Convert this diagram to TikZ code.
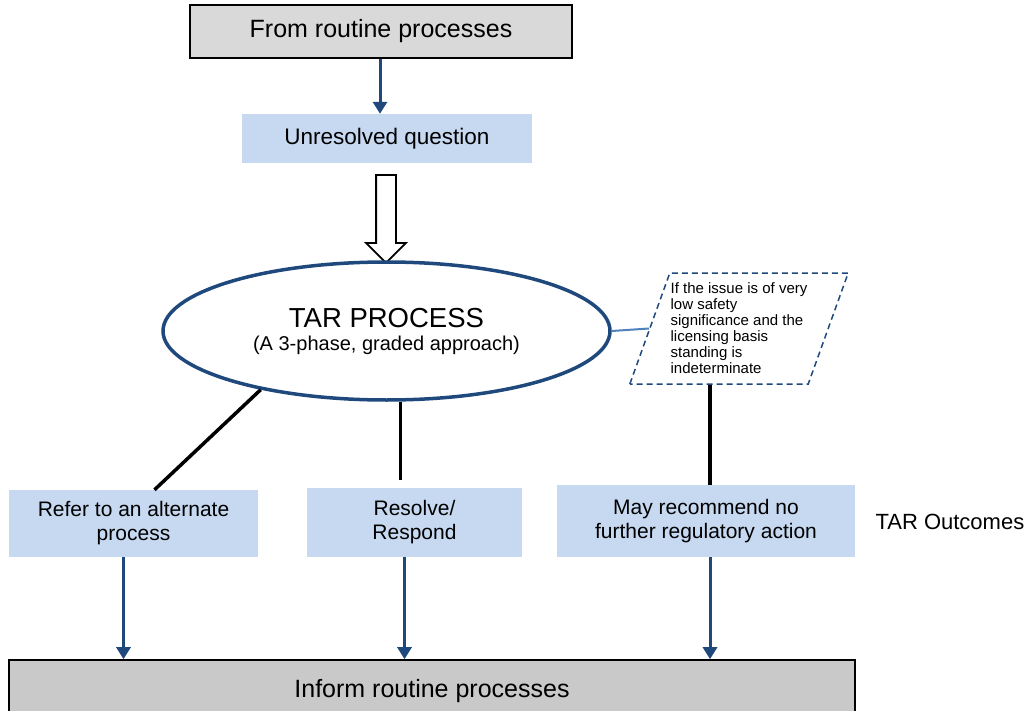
\documentclass[tikz,border=0pt]{standalone}
\usepackage{fontspec}
\setmainfont{Liberation Sans}
\usetikzlibrary{arrows.meta,shapes.geometric,shapes.arrows}
\definecolor{navy}{RGB}{31,73,125}
\definecolor{paleblue}{RGB}{198,217,241}
\definecolor{linkblue}{RGB}{79,129,189}
\definecolor{greytop}{RGB}{217,217,217}
\definecolor{greybot}{RGB}{201,201,201}

\begin{document}
\begin{tikzpicture}[x=1pt,y=-1pt,
  greybox/.style={draw,line width=1.6pt,font=\fontsize{25}{28}\selectfont},
  bluebox/.style={fill=paleblue,align=center,font=\fontsize{21}{24}\selectfont},
  down/.style={-{Triangle[width=14pt,length=12pt]},line width=3pt,navy},
  stem/.style={line width=3.5pt}]
\useasboundingbox (0,0) rectangle (1032,711);
\node[greybox,fill=greytop,minimum width=382pt,minimum height=53pt] (src) at (381,31.5) {From routine processes};
\node[bluebox,minimum width=290pt,minimum height=49pt,font=\fontsize{22.5}{26}\selectfont] (quest) at (387,138.5) {Unresolved question};
\node[single arrow,draw,line width=1.8pt,fill=white,minimum height=88pt,inner xsep=0pt,inner ysep=9pt,single arrow head extend=10pt,rotate=-90] (push) at (386,214) {};
\node[ellipse,draw=navy,line width=3.5pt,minimum width=447pt,minimum height=138pt,align=center,font=\fontsize{20}{23}\selectfont] (tar) at (386.5,331)
  {{\fontsize{27.5}{30}\selectfont TAR PROCESS}\\(A 3-phase, graded approach)};
\node[trapezium,trapezium left angle=68,trapezium right angle=112,trapezium stretches=true,draw=navy,dash pattern=on 6pt off 4pt,line width=1.5pt,minimum width=219pt,minimum height=111pt,inner xsep=0pt,align=left,font=\fontsize{15}{16}\selectfont] (cond) at (739,328.5)
  {If the issue is of very\\low safety\\significance and the\\licensing basis\\standing is\\indeterminate};
\node[bluebox,minimum width=249pt,minimum height=67pt] (refer) at (133.5,523.5) {Refer to an alternate\\process};
\node[bluebox,minimum width=215pt,minimum height=69pt] (resolve) at (414.5,522.5) {Resolve/\\Respond};
\node[bluebox,minimum width=298pt,minimum height=72pt] (may) at (706,521) {May recommend no\\further regulatory action};
\node[font=\fontsize{22}{24}\selectfont,anchor=west] (outc) at (872,522) {TAR Outcomes};
\node[greybox,fill=greybot,minimum width=846pt,minimum height=56pt,text depth=0pt] (inform) at (432,688) {Inform routine processes};

\draw[down] (src.south -| 380,0) -- (380,0 |- quest.north);
\draw[line width=2pt,linkblue] (tar.east) -- (cond.west);
\draw[stem] (tar.205) -- ([xshift=21pt]refer.north);
\draw[stem] ([xshift=14pt]tar.south) -- ([xshift=-14pt,yshift=8pt]resolve.north);
\draw[stem] (710,0 |- cond.south) -- (710,0 |- may.north);
\draw[down] ([xshift=-10pt]refer.south) -- ([xshift=-10pt]refer.south |- inform.north);
\draw[down] ([xshift=-10pt]resolve.south) -- ([xshift=-10pt]resolve.south |- inform.north);
\draw[down] ([xshift=4pt]may.south) -- ([xshift=4pt]may.south |- inform.north);
\end{tikzpicture}
\end{document}
